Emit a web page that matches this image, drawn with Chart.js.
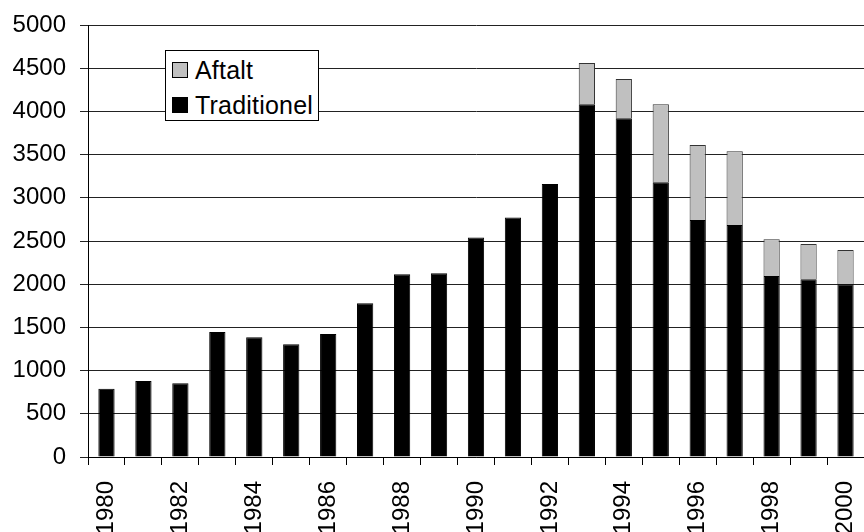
<!DOCTYPE html>
<html>
<head>
<meta charset="utf-8">
<script src="https://cdn.jsdelivr.net/npm/chart.js@4"></script>
<style>
  html, body { margin: 0; padding: 0; background: #fff; }
  #wrap { position: relative; width: 864px; height: 532px; overflow: hidden; }
  #legend {
    position: absolute; left: 165px; top: 50px; width: 152px; height: 69px;
    border: 1px solid #000; background: #fff;
    font-family: "Liberation Sans", Arial, sans-serif; font-size: 25px; letter-spacing: 0.2px; color: #000;
  }
  .row { position: absolute; left: 6px; display: flex; align-items: center; white-space: nowrap; line-height: 30px; }
  .sw { width: 16px; height: 16px; border: 1px solid #000; margin-right: 7px; box-sizing: border-box; }
</style>
</head>
<body>
<div id="wrap">
  <canvas id="myChart" width="864" height="532"></canvas>
  <div id="legend"></div>
</div>
<script>
// years on the x axis
const years = ["1980","1981","1982","1983","1984","1985","1986","1987","1988","1989","1990",
  "1991","1992","1993","1994","1995","1996","1997","1998","1999","2000"];

// Traditionel (black, bottom)
const traditionel = [790, 880, 855, 1447, 1387, 1305, 1424, 1780, 2115, 2127, 2540,
  2773, 3160, 4082, 3920, 3180, 2743, 2685, 2095, 2057, 2000];

// Aftalt (gray, on top)
const aftalt = [null, null, null, null, null, null, null, null, null, null, null,
  null, null, 478, 455, 902, 868, 853, 424, 408, 396];

const yTicks = { min: 0, max: 5000, step: 500 };

const font = { family: "'Liberation Sans', Arial, sans-serif", size: 24 };

const datasets = [
  {
    label: "Traditionel",
    data: traditionel,
    backgroundColor: "#000000",
    borderColor: "#000000",
    borderWidth: 1,
  },
  {
    label: "Aftalt",
    data: aftalt,
    backgroundColor: "#c0c0c0",
    borderColor: "#333333",
    borderWidth: 1,
  },
];

// legend box (Aftalt listed first, like the original)
const legend = document.getElementById("legend");
[datasets[1], datasets[0]].forEach((ds, i) => {
  const row = document.createElement("div");
  row.className = "row";
  row.style.top = (i === 0 ? 4 : 39) + "px";
  row.innerHTML = '<span class="sw" style="background:' + ds.backgroundColor + '"></span>' + ds.label;
  legend.appendChild(row);
});

const ctx = document.getElementById("myChart").getContext("2d");
new Chart(ctx, {
  type: "bar",
  data: { labels: years, datasets: datasets },
  options: {
    responsive: false,
    animation: false,
    layout: { padding: { top: 25, right: 0, bottom: 0, left: 0 } },
    plugins: { legend: { display: false }, tooltip: { enabled: false } },
    datasets: { bar: { barPercentage: 0.44, categoryPercentage: 1.0 } },
    scales: {
      x: {
        stacked: true,
        offset: true,
        afterFit: (scale) => {
          scale.height = 75;
          scale.paddingLeft = 0;
          scale.paddingRight = 0;
        },
        grid: {
          offset: true,
          drawOnChartArea: false,
          drawTicks: true,
          tickLength: 8,
          color: "#000",
        },
        border: { color: "#000", width: 1 },
        ticks: {
          autoSkip: false,
          maxRotation: 90,
          minRotation: 90,
          padding: 16,
          color: "#000",
          font: font,
          callback: function (val, idx) { return idx % 2 === 0 ? years[idx] : ""; },
        },
      },
      y: {
        stacked: true,
        min: yTicks.min,
        max: yTicks.max,
        afterFit: (scale) => {
          scale.width = 88;
          scale.paddingTop = 0;
          scale.paddingBottom = 0;
        },
        grid: { color: "#222", tickLength: 8, lineWidth: 1 },
        border: { color: "#000", width: 1 },
        ticks: {
          stepSize: yTicks.step,
          padding: 14,
          color: "#000",
          font: font,
          callback: (v) => String(v),
        },
      },
    },
  },
});
</script>
</body>
</html>
